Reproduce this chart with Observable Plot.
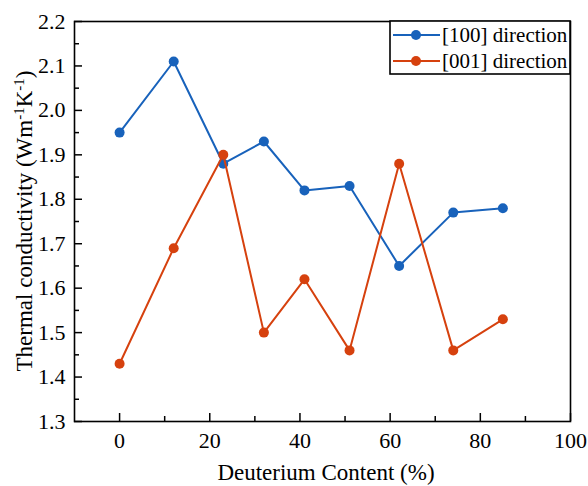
<!DOCTYPE html>
<html><head><meta charset="utf-8">
<script src="https://cdn.jsdelivr.net/npm/d3@7"></script>
<script src="https://cdn.jsdelivr.net/npm/@observablehq/plot@0.6"></script>
<style>
body{margin:0;background:#fff}
svg{display:block}
#chart svg text{font-family:'Liberation Serif','Times New Roman',serif !important}
</style>
</head><body><div id="chart"></div>
<script>
const deuterium = [0, 12, 23, 32, 41, 51, 62, 74, 85];
const k100 = [1.95, 2.11, 1.88, 1.93, 1.82, 1.83, 1.65, 1.77, 1.78];
const k001 = [1.43, 1.69, 1.90, 1.50, 1.62, 1.46, 1.88, 1.46, 1.53];
const seriesNames = ["[100] direction", "[001] direction"];
const seriesColors = ["#1862bb", "#d6410e"];
const xMajor = [0, 20, 40, 60, 80, 100];
const xMinor = [10, 30, 50, 70, 90];
const yMajor = [1.3, 1.4, 1.5, 1.6, 1.7, 1.8, 1.9, 2.0, 2.1, 2.2];
const yMinor = [1.35, 1.45, 1.55, 1.65, 1.75, 1.85, 1.95, 2.05, 2.15];
const xTitle = "Deuterium Content (%)";

const d100 = deuterium.map((x, i) => ({x, y: k100[i]}));
const d001 = deuterium.map((x, i) => ({x, y: k001[i]}));
const font = "'Liberation Serif', 'Times New Roman', serif";

const W = 588, H = 486, mL = 74, mR = 18, mT = 21, mB = 65;

const plot = Plot.plot({
  width: W, height: H,
  marginLeft: mL, marginRight: mR, marginTop: mT, marginBottom: mB,
  style: {fontFamily: font, fontSize: "22px", color: "black", background: "white"},
  x: {domain: [-10, 100]},
  y: {domain: [1.3, 2.2]},
  marks: [
    Plot.axisX({ticks: xMajor, tickSize: -8, text: null, strokeWidth: 1.5, label: null}),
    Plot.axisX({ticks: xMinor, tickSize: -5, text: null, strokeWidth: 1.5, label: null}),
    Plot.axisX({ticks: xMajor, tickSize: 0, tickPadding: 11, fontSize: 22, fontFamily: font, label: null}),
    Plot.axisY({ticks: yMajor, tickSize: -8, text: null, strokeWidth: 1.5, label: null}),
    Plot.axisY({ticks: yMinor, tickSize: -5, text: null, strokeWidth: 1.5, label: null}),
    Plot.axisY({ticks: yMajor, tickSize: 0, tickPadding: 9, tickFormat: d3.format(".1f"), fontSize: 22, fontFamily: font, label: null}),
    Plot.line(d100, {x: "x", y: "y", stroke: seriesColors[0], strokeWidth: 2}),
    Plot.dot(d100, {x: "x", y: "y", fill: seriesColors[0], r: 5}),
    Plot.line(d001, {x: "x", y: "y", stroke: seriesColors[1], strokeWidth: 2}),
    Plot.dot(d001, {x: "x", y: "y", fill: seriesColors[1], r: 5}),
    Plot.frame({stroke: "black", strokeWidth: 1.6})
  ]
});
document.getElementById("chart").appendChild(plot);

const svg = d3.select(plot);
// x title
svg.append("text").attr("x", 326).attr("y", 480).attr("text-anchor", "middle")
  .attr("font-family", font).attr("font-size", 23).attr("fill", "black").text(xTitle);
// y title with superscripts
const yt = svg.append("text").attr("transform", `translate(32,${(mT + H - mB) / 2}) rotate(-90)`)
  .attr("text-anchor", "middle").attr("font-family", font).attr("font-size", 23).attr("fill", "black");
yt.append("tspan").text("Thermal conductivity (Wm");
yt.append("tspan").attr("dy", -8).attr("font-size", 15).text("-1");
yt.append("tspan").attr("dy", 8).text("K");
yt.append("tspan").attr("dy", -8).attr("font-size", 15).text("-1");
yt.append("tspan").attr("dy", 8).text(")");

// legend
const lx0 = 390, lx1 = W - mR, ly0 = mT, ly1 = 74;
const lg = svg.append("g");
lg.append("rect").attr("x", lx0).attr("y", ly0).attr("width", lx1 - lx0).attr("height", ly1 - ly0)
  .attr("fill", "white").attr("stroke", "black").attr("stroke-width", 1.6);
seriesNames.forEach((name, i) => {
  const cy = 35 + i * 26;
  lg.append("line").attr("x1", 393).attr("x2", 440).attr("y1", cy).attr("y2", cy)
    .attr("stroke", seriesColors[i]).attr("stroke-width", 2);
  lg.append("circle").attr("cx", 416).attr("cy", cy).attr("r", 5).attr("fill", seriesColors[i]);
  lg.append("text").attr("x", 442).attr("y", cy).attr("dy", "0.35em").attr("text-anchor", "start")
    .attr("font-family", font).attr("font-size", 21).attr("fill", "black").text(name);
});
</script>
</body></html>
